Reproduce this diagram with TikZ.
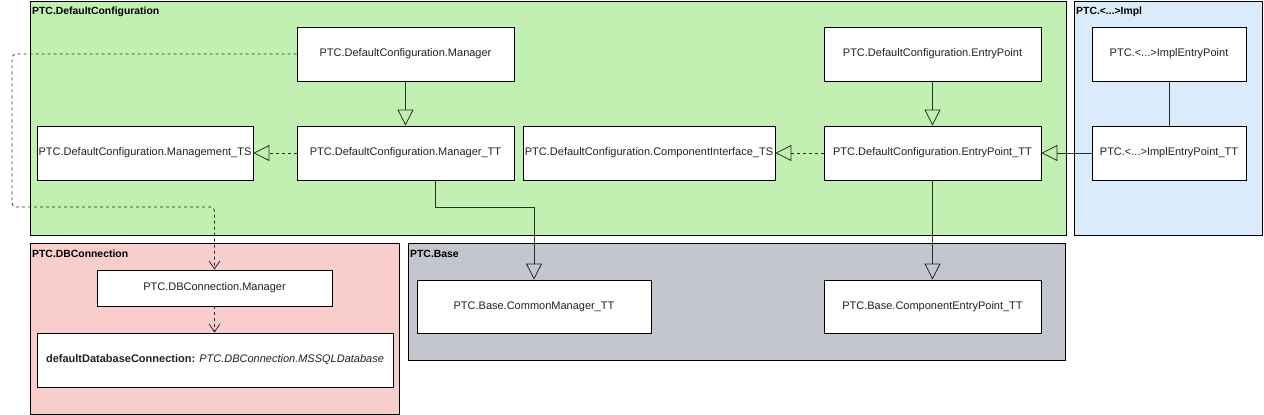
\documentclass[tikz,border=0pt]{standalone}
\usepackage{fontspec}
\setmainfont{Liberation Sans}
\usetikzlibrary{arrows.meta}
\definecolor{cgreen}{HTML}{C1F0B2}
\definecolor{cblue}{HTML}{DAEBFC}
\definecolor{cred}{HTML}{F8CECC}
\definecolor{cgray}{HTML}{C3C6CE}
\definecolor{ctext}{HTML}{222222}
\tikzset{
  cont/.style={draw=black, line width=0.8pt, anchor=north west, inner sep=0pt},
  clabel/.style={font=\fontsize{10.4}{12}\selectfont\bfseries, anchor=north west, inner sep=0pt},
  box/.style={draw=black, fill=white, line width=0.8pt, inner sep=0pt, font=\fontsize{11}{13}\selectfont, text=ctext},
  edge/.style={draw=black, line width=0.8pt, draw opacity=0.8},
  gen/.style={edge, -{Triangle[open,length=16pt,width=16pt]}},
  real/.style={edge, dash pattern=on 3pt off 3pt, -{Triangle[open,length=16pt,width=16pt]}},
  dep/.style={edge, dash pattern=on 3pt off 3pt, -{Straight Barb[length=8pt,width=11pt]}},
}
\begin{document}
\begin{tikzpicture}[x=1pt,y=-1pt]
\useasboundingbox (0,0) rectangle (1264,415);
% containers
\node[cont, fill=cgreen, minimum width=1036pt, minimum height=234pt] (gdc) at (30,0.5) {};
\node[cont, fill=cblue, minimum width=188pt, minimum height=234pt] (gimpl) at (1074,0.5) {};
\node[cont, fill=cred, minimum width=369pt, minimum height=171pt] (gdb) at (30,243) {};
\node[cont, fill=cgray, minimum width=657pt, minimum height=117pt] (gbase) at (408,243) {};
\node[clabel] (ldc) at (32,7) {PTC.DefaultConfiguration};
\node[clabel] (limpl) at (1076,7) {PTC.<...>Impl};
\node[clabel] (ldb) at (32,250) {PTC.DBConnection};
\node[clabel] (lbase) at (410,250) {PTC.Base};
% nodes
\node[box, minimum width=217pt, minimum height=54pt] (mgr) at (405.5,54) {PTC.DefaultConfiguration.Manager};
\node[box, minimum width=216pt, minimum height=54pt] (mts) at (145,153) {PTC.DefaultConfiguration.Management\_TS};
\node[box, minimum width=217pt, minimum height=54pt] (mtt) at (405.5,153) {PTC.DefaultConfiguration.Manager\_TT};
\node[box, minimum width=252pt, minimum height=54pt] (cits) at (649,153) {PTC.DefaultConfiguration.ComponentInterface\_TS};
\node[box, minimum width=217pt, minimum height=54pt] (ep) at (932.5,54) {PTC.DefaultConfiguration.EntryPoint};
\node[box, minimum width=217pt, minimum height=54pt] (eptt) at (932.5,153) {PTC.DefaultConfiguration.EntryPoint\_TT};
\node[box, minimum width=154pt, minimum height=54pt] (iep) at (1169,54) {PTC.<...>ImplEntryPoint};
\node[box, minimum width=154pt, minimum height=54pt] (ieptt) at (1169,153) {PTC.<...>ImplEntryPoint\_TT};
\node[box, minimum width=235pt, minimum height=36pt] (dbm) at (214.5,288) {PTC.DBConnection.Manager};
\node[box, minimum width=356pt, minimum height=54pt] (ddc) at (215,360) {\textbf{defaultDatabaseConnection:} \textit{PTC.DBConnection.MSSQLDatabase}};
\node[box, minimum width=234pt, minimum height=53pt] (cmtt) at (534,306.5) {PTC.Base.CommonManager\_TT};
\node[box, minimum width=217pt, minimum height=53pt] (cept) at (932.5,306.5) {PTC.Base.ComponentEntryPoint\_TT};
% connectors
\coordinate (bend) at (12,207);
\draw[gen] (mgr) -- (mtt);
\draw[real] (mtt) -- (mts);
\draw[real] (eptt) -- (cits);
\draw[gen] (ep) -- (eptt);
\draw[gen] (ieptt) -- (eptt);
\draw[edge] (iep) -- (ieptt);
\draw[gen] ([xshift=29.5pt]mtt.south) -- ++(0,27) -| (cmtt.north);
\draw[gen] (eptt) -- (cept);
\draw[dep, rounded corners=4pt] (mgr.west) -| (bend) -| (dbm.north);
\draw[dep] (dbm.south) -- (dbm.south |- ddc.north);
\end{tikzpicture}
\end{document}
